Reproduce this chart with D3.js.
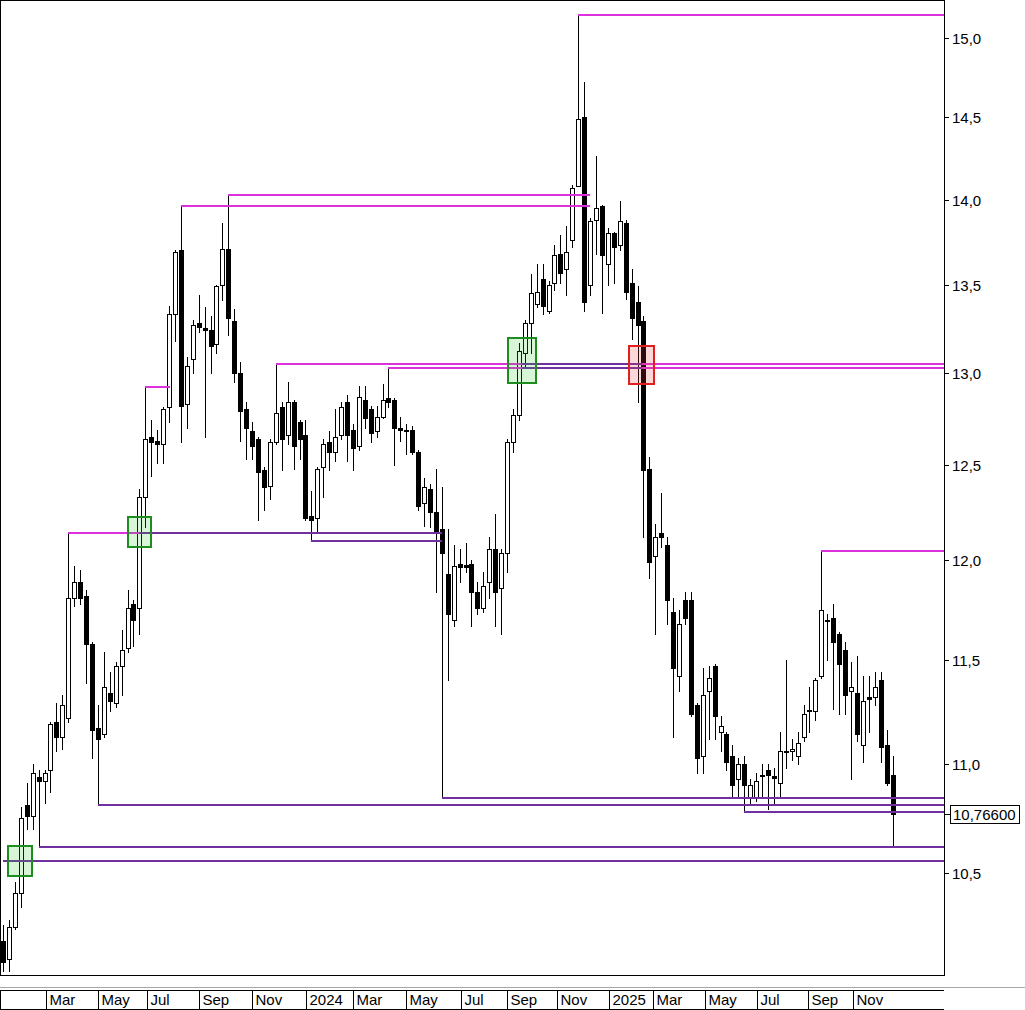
<!DOCTYPE html>
<html><head><meta charset="utf-8">
<script src="https://cdn.jsdelivr.net/npm/d3@7"></script>
<style>body{margin:0;background:#fff}svg{display:block}</style>
</head><body><svg id="c" width="1025" height="1010"></svg>
<script>
// ---------- DATA ----------
const opens = [
10.20,10.12,10.26,10.41,10.81,10.76,10.94,10.92,10.97,11.20,
11.13,11.22,11.81,11.89,11.82,11.58,11.17,11.14,11.34,11.29,
11.47,11.56,11.78,11.76,12.33,12.65,12.63,12.61,12.81,13.33,
13.70,12.83,13.08,13.28,13.25,13.24,13.16,13.50,13.71,13.29,
13.00,12.80,12.68,12.64,12.47,12.39,12.62,12.81,12.66,12.84,
12.73,12.66,12.23,12.22,12.49,12.62,12.57,12.66,12.84,12.69,
12.60,12.85,12.80,12.68,12.76,12.86,12.85,12.70,12.69,12.69,
12.57,12.30,12.37,12.25,12.16,11.93,11.70,11.98,11.975,11.98,
11.84,11.76,11.89,12.06,11.86,12.04,12.62,12.77,13.11,13.28,
13.39,13.53,13.35,13.51,13.68,13.59,13.76,14.08,14.50,13.50,
13.88,13.96,13.62,13.80,13.73,13.86,13.51,13.40,13.29,12.48,
12.02,12.14,12.08,11.74,11.42,11.80,11.80,11.28,11.04,11.35,
11.47,11.15,11.14,11.04,10.93,11.00,10.84,10.84,10.95,10.97,
10.945,10.91,11.06,11.06,11.04,11.13,11.25,11.25,11.42,11.70,
11.71,11.63,11.55,11.35,11.34,11.09,11.32,11.32,11.40,11.09,
10.95];
const highs = [
10.27,10.29,10.46,10.80,10.91,11.00,10.97,10.97,11.20,11.29,
11.33,12.14,11.97,11.95,11.85,11.59,11.28,11.54,11.44,11.49,
11.65,11.85,11.80,12.37,12.92,12.74,12.69,12.81,13.38,13.70,
13.96,13.09,13.30,13.44,13.37,13.32,13.50,13.86,14.03,13.36,
13.06,12.84,12.73,12.65,12.49,12.64,13.05,12.84,12.95,12.85,
12.74,12.74,12.36,12.49,12.64,12.68,12.80,12.84,12.88,12.72,
12.93,12.93,12.82,12.82,12.94,13.03,12.86,12.76,12.72,12.71,
12.58,12.43,12.40,12.48,12.38,12.16,12.08,12.06,12.09,12.00,
11.89,11.94,12.12,12.24,12.06,12.64,12.80,13.17,13.30,13.56,
13.62,13.62,13.52,13.73,13.79,13.84,14.09,15.15,14.72,13.89,
14.26,13.97,13.83,13.81,13.99,13.88,13.59,13.49,13.32,12.54,
12.19,12.35,12.12,11.81,11.75,11.84,11.84,11.29,11.46,11.47,
11.48,11.23,11.15,11.09,11.03,11.04,10.93,10.96,11.00,11.00,
10.98,11.15,11.50,11.12,11.15,11.28,11.37,11.41,12.05,11.73,
11.78,11.64,11.59,11.49,11.52,11.42,11.42,11.44,11.44,11.16,
11.04];
const lows = [
10.07,10.07,10.25,10.35,10.70,10.70,10.618,10.82,10.87,11.06,
11.07,11.20,11.77,11.78,11.39,11.03,10.81,11.13,11.25,11.27,
11.33,11.54,11.57,11.63,12.17,12.44,12.51,12.51,12.73,13.18,
12.62,12.70,13.00,13.23,12.65,13.00,13.11,13.41,13.21,12.95,
12.63,12.53,12.53,12.21,12.26,12.32,12.61,12.47,12.61,12.48,
12.53,12.21,12.10,12.15,12.33,12.47,12.52,12.64,12.52,12.47,
12.58,12.70,12.62,12.65,12.75,12.81,12.50,12.63,12.56,12.56,
12.26,12.18,12.17,11.84,10.844,11.40,11.67,11.89,11.94,11.67,
11.73,11.74,11.81,11.67,11.63,11.94,12.57,12.74,13.04,13.11,
13.37,13.33,13.34,13.47,13.51,13.44,13.72,14.08,13.35,13.44,
13.68,13.34,13.50,13.51,13.70,13.42,13.19,12.84,12.12,11.91,
11.63,12.07,11.68,11.13,11.35,11.68,11.23,10.96,10.96,11.12,
11.12,11.06,10.97,10.84,10.85,10.779,10.82,10.83,10.85,10.79,
10.82,10.85,10.98,11.02,11.00,11.11,11.15,11.21,11.41,11.50,
11.26,11.24,11.24,10.93,11.11,11.01,11.15,11.28,11.01,10.90,
10.618];
const closes = [
10.11,10.26,10.41,10.75,10.76,10.96,10.92,10.96,11.19,11.13,
11.28,11.81,11.89,11.81,11.58,11.16,11.12,11.37,11.30,11.47,
11.55,11.76,11.70,12.33,12.64,12.62,12.61,12.80,13.33,13.69,
12.82,13.04,13.27,13.26,13.24,13.15,13.49,13.71,13.31,13.00,
12.79,12.70,12.60,12.46,12.38,12.62,12.78,12.64,12.84,12.60,
12.64,12.22,12.21,12.48,12.61,12.57,12.65,12.81,12.66,12.59,
12.87,12.75,12.67,12.76,12.85,12.84,12.70,12.69,12.68,12.57,
12.28,12.38,12.25,12.14,12.04,11.73,11.97,11.965,11.965,11.84,
11.76,11.87,12.06,11.84,12.04,12.62,12.77,13.12,13.28,13.45,
13.46,13.38,13.50,13.67,13.57,13.69,14.07,14.49,13.40,13.87,
13.95,13.67,13.80,13.72,13.87,13.46,13.31,13.27,12.47,11.99,
12.12,12.12,11.80,11.46,11.68,11.71,11.24,11.03,11.33,11.41,
11.23,11.18,11.01,10.90,11.00,10.90,10.90,10.92,10.945,10.95,
10.935,11.06,11.055,11.07,11.10,11.24,11.255,11.40,11.75,11.695,
11.59,11.48,11.33,11.37,11.14,11.30,11.31,11.37,11.08,10.91,
10.766];

const priceTicks = [15.0,14.5,14.0,13.5,13.0,12.5,12.0,11.5,11.0,10.5];
const priceTickLabels = ["15,0","14,5","14,0","13,5","13,0","12,5","12,0","11,5","11,0","10,5"];
const monthLabels = ["Mar","May","Jul","Sep","Nov","2024","Mar","May","Jul","Sep","Nov","2025","Mar","May","Jul","Sep","Nov"];
const monthStartBar = [7.2,16.02,24.23,33.05,41.99,51.1,59.02,67.91,77.18,84.99,93.42,102.19,109.61,118.38,127.15,135.75,143.34];
const lastPrice = 10.766;
const lastPriceLabel = "10,76600";

// support / resistance segments (bar index from/to; null = to right edge)
const levelValue = [15.15,14.03,13.96,13.05,13.05,13.05,13.03,13.03,13.03,12.92,12.14,12.14,12.10,12.05,10.844,10.81,10.779,10.618,10.555];
const levelFrom  = [97,38,30,46,87.5,107.7,65,87.5,107.7,24,11,23,52,138,74,16,125,6,0];
const levelTo    = [null,99,99,87.5,107.7,null,87.5,107.7,null,28.2,23,74,74,null,null,null,null,null,null];
const levelKind  = ["res","res","res","res","sup","res","res","sup","res","res","res","sup","sup","res","sup","sup","sup","sup","sup"];

// breakout signal boxes
const signalKind = ["buy","buy","buy","sell"];
const signalFrom = [0.85,21.1,85.2,105.6];
const signalTo   = [4.9,25.0,89.9,109.8];
const signalHigh = [10.62,12.226,13.198,13.153];
const signalLow  = [10.487,12.07,12.946,12.94];

// ---------- DRAW ----------
const W=1025,H=1010, PR=944, PB=975;
const svg=d3.select("#c");
svg.append("rect").attr("width",W).attr("height",H).attr("fill","#fff");
const x=d3.scaleLinear().domain([0,150]).range([3,892.5]);
const y=d3.scaleLog().domain([10.048,15.2455]).range([976,0]);
const FONT='"Liberation Sans", Arial, sans-serif';
const COL={res:"#dc32dc",sup:"#7030a0"};

svg.append("defs").append("clipPath").attr("id","clip")
  .append("rect").attr("x",0).attr("y",0).attr("width",PR).attr("height",PB);
const pg=svg.append("g").attr("clip-path","url(#clip)");

const candles=d3.range(opens.length).map(i=>({i,o:opens[i],h:highs[i],l:lows[i],c:closes[i]}));
const cx=d=>Math.round(x(d.i));

// wicks
pg.append("g").selectAll("line").data(candles).join("line")
  .attr("x1",d=>cx(d)+0.5).attr("x2",d=>cx(d)+0.5)
  .attr("y1",d=>Math.round(y(d.h))).attr("y2",d=>Math.round(y(d.l))+1)
  .attr("stroke","#000").attr("stroke-width",1).attr("shape-rendering","crispEdges");
// bodies
pg.append("g").selectAll("rect").data(candles).join("rect")
  .attr("x",d=>cx(d)-1.5).attr("width",4)
  .attr("y",d=>Math.round(y(Math.max(d.o,d.c)))+0.5)
  .attr("height",d=>Math.max(0,Math.round(y(Math.min(d.o,d.c)))-Math.round(y(Math.max(d.o,d.c)))))
  .attr("fill",d=>d.c>=d.o?"#fff":"#000").attr("stroke","#000").attr("stroke-width",1)
  .attr("shape-rendering","crispEdges");

// level lines
const levels=levelValue.map((v,k)=>({v,f:levelFrom[k],t:levelTo[k],kind:levelKind[k]}));
pg.append("g").selectAll("line").data(levels).join("line")
  .attr("x1",d=>Math.round(x(d.f))).attr("x2",d=>d.t===null?PR:Math.round(x(d.t)))
  .attr("y1",d=>Math.round(y(d.v))).attr("y2",d=>Math.round(y(d.v)))
  .attr("stroke",d=>COL[d.kind]).attr("stroke-width",2).attr("shape-rendering","crispEdges");

// signal boxes
const sig=signalKind.map((k,j)=>({k,f:signalFrom[j],t:signalTo[j],hi:signalHigh[j],lo:signalLow[j]}));
pg.append("g").selectAll("rect").data(sig).join("rect")
  .attr("x",d=>Math.round(x(d.f))).attr("width",d=>Math.round(x(d.t))-Math.round(x(d.f)))
  .attr("y",d=>Math.round(y(d.hi))).attr("height",d=>Math.round(y(d.lo))-Math.round(y(d.hi)))
  .attr("fill",d=>d.k==="buy"?"rgba(40,200,40,0.18)":"rgba(230,60,60,0.2)")
  .attr("stroke",d=>d.k==="buy"?"#1e8c1e":"#e02020").attr("stroke-width",2);

// plot frame
svg.append("rect").attr("x",0.5).attr("y",0.5).attr("width",PR).attr("height",PB)
  .attr("fill","none").attr("stroke","#000").attr("shape-rendering","crispEdges");

// right price axis
const ax=svg.append("g");
priceTicks.forEach((v,k)=>{
  const yy=Math.round(y(v))+0.5;
  ax.append("line").attr("x1",PR).attr("x2",PR+5).attr("y1",yy).attr("y2",yy)
    .attr("stroke","#000").attr("shape-rendering","crispEdges");
  ax.append("text").attr("x",PR+8).attr("y",yy).attr("dominant-baseline","central")
    .attr("font-family",FONT).attr("font-size",15).attr("fill","#000").text(priceTickLabels[k]);
});
{
  const yy=Math.round(y(lastPrice))+0.5;
  ax.append("line").attr("x1",PR).attr("x2",PR+6).attr("y1",yy).attr("y2",yy).attr("stroke","#000").attr("shape-rendering","crispEdges");
  ax.append("rect").attr("x",950.5).attr("y",yy-9).attr("width",69).attr("height",18)
    .attr("fill","#fff").attr("stroke","#000").attr("shape-rendering","crispEdges");
  ax.append("text").attr("x",953).attr("y",yy).attr("dominant-baseline","central")
    .attr("font-family",FONT).attr("font-size",15).attr("fill","#000").text(lastPriceLabel);
}

// bottom time axis
const bx=svg.append("g");
bx.append("line").attr("x1",0).attr("x2",W).attr("y1",987.5).attr("y2",987.5).attr("stroke","#a8a8a8");
bx.append("line").attr("x1",0).attr("x2",PR).attr("y1",990.5).attr("y2",990.5).attr("stroke","#000").attr("shape-rendering","crispEdges");
bx.append("line").attr("x1",0).attr("x2",PR).attr("y1",1009.5).attr("y2",1009.5).attr("stroke","#000").attr("shape-rendering","crispEdges");
bx.append("line").attr("x1",0.5).attr("x2",0.5).attr("y1",990).attr("y2",1010).attr("stroke","#000").attr("shape-rendering","crispEdges");
monthLabels.forEach((lab,k)=>{
  const xx=Math.round(x(monthStartBar[k]))+0.5;
  bx.append("line").attr("x1",xx).attr("x2",xx).attr("y1",990).attr("y2",1010).attr("stroke","#000").attr("shape-rendering","crispEdges");
  bx.append("text").attr("x",xx+3).attr("y",1005).attr("font-family",FONT).attr("font-size",15).attr("fill","#000").text(lab);
});
</script></body></html>
